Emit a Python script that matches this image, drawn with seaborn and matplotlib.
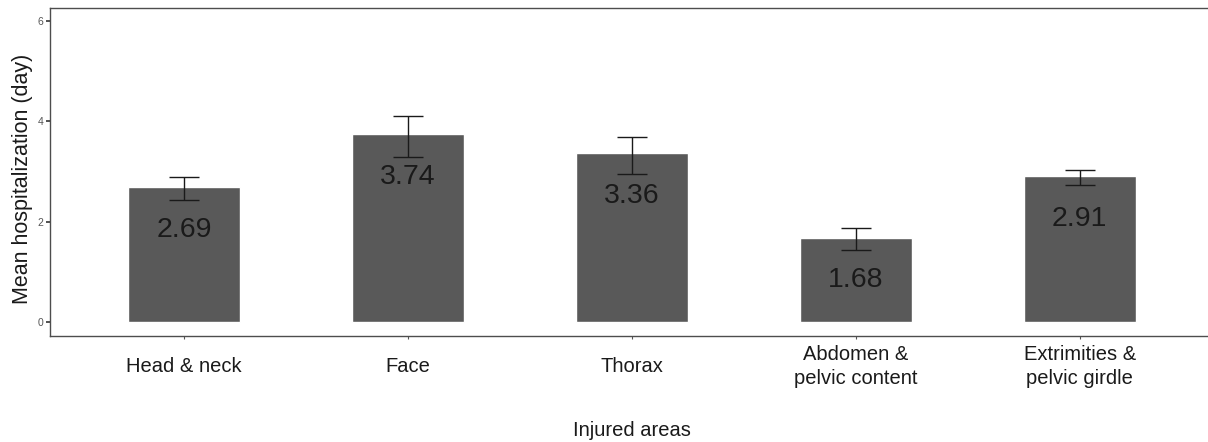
import numpy as np
import pandas as pd
import matplotlib
matplotlib.use("Agg")
import matplotlib.pyplot as plt
import seaborn as sns

# values
areas = ["Head & neck", "Face", "Thorax", "Abdomen &\npelvic content", "Extrimities &\npelvic girdle"]
means = [2.69, 3.74, 3.36, 1.68, 2.91]
err_low = [2.43, 3.28, 2.95, 1.43, 2.74]
err_high = [2.89, 4.11, 3.69, 1.87, 3.03]
y_ticks = [0, 2, 4, 6]

df = pd.DataFrame({"area": areas, "mean": means})

sns.set_theme(style="white")
plt.rcParams["font.family"] = ["Liberation Sans", "DejaVu Sans"]

fig = plt.figure(figsize=(12.08, 4.42), dpi=100)
ax = fig.add_axes([50 / 1208, 106 / 442, 1164 / 1208, 328 / 442])

sns.barplot(data=df, x="area", y="mean", color="#595959", width=0.5,
            saturation=1, errorbar=None, ax=ax)

# error bars
pos = np.arange(len(areas))
m = np.array(means)
yerr = [m - np.array(err_low), np.array(err_high) - m]
ax.errorbar(pos, m, yerr=yerr, fmt="none", ecolor="#1a1a1a",
            elinewidth=1.0, capsize=11, capthick=1.0)

# value labels inside bars
for x, v in zip(pos, means):
    ax.text(x, v - 0.85, f"{v:.2f}", ha="center", va="center",
            fontsize=20.5, color="#1a1a1a")

ax.set_xlim(-0.6, 4.6)
ax.set_ylim(-0.28, 6.26)
ax.set_yticks(y_ticks)
ax.set_yticklabels([str(t) for t in y_ticks])

ax.tick_params(axis="y", labelsize=7.5, labelcolor="#555555", length=3,
               width=1.2, color="#333333", pad=2, left=True)
ax.tick_params(axis="x", labelsize=14.5, labelcolor="#1a1a1a", length=2.5,
               width=0.8, color="#555555", pad=19.5, bottom=True)
for lbl in ax.get_xticklabels():
    lbl.set_va("center")
    lbl.set_linespacing(1.3)

for side in ["left", "top", "bottom", "right"]:
    ax.spines[side].set_color("#4d4d4d")
    ax.spines[side].set_linewidth(1.0)

ax.set_ylabel("Mean hospitalization (day)", fontsize=15.5, color="#1a1a1a")
ax.yaxis.set_label_coords(-0.024, 0.48)
ax.yaxis.label.set_va("center")
ax.set_xlabel("Injured areas", fontsize=14.5, color="#1a1a1a")
ax.xaxis.set_label_coords(0.5, -0.287)
ax.xaxis.label.set_va("center")

fig.savefig("out.png", dpi=100)
